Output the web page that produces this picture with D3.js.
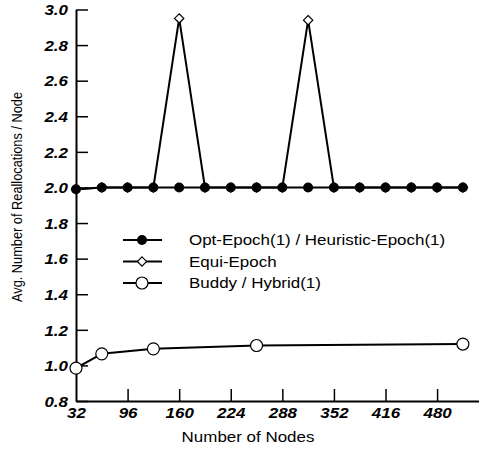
<!DOCTYPE html>
<html>
<head>
<meta charset="utf-8">
<script src="https://cdn.jsdelivr.net/npm/d3@7"></script>
<style>
  body { margin: 0; background: #fff; }
  text { font-family: "Liberation Sans", Arial, sans-serif; }
  .tick text { font-weight: bold; font-style: italic; font-size: 15px; }
</style>
</head>
<body>
<svg id="chart" width="479" height="449"></svg>
<script>
// data
let nodes = [32, 64, 96, 128, 160, 192, 224, 256, 288, 320, 352, 384, 416, 448, 480, 512];
let optEpoch = [1.99, 2.0, 2.0, 2.0, 2.0, 2.0, 2.0, 2.0, 2.0, 2.0, 2.0, 2.0, 2.0, 2.0, 2.0, 2.0];
let equiEpoch = [1.99, 2.0, 2.0, 2.0, 2.95, 2.0, 2.0, 2.0, 2.0, 2.94, 2.0, 2.0, 2.0, 2.0, 2.0, 2.0];
let buddyNodes = [32, 64, 128, 256, 512];
let buddy = [0.985, 1.065, 1.093, 1.112, 1.12];
let xTicks = [32, 96, 160, 224, 288, 352, 416, 480];
let yTicks = [0.8, 1.0, 1.2, 1.4, 1.6, 1.8, 2.0, 2.2, 2.4, 2.6, 2.8, 3.0];
let legendLabels = ["Opt-Epoch(1) / Heuristic-Epoch(1)", "Equi-Epoch", "Buddy / Hybrid(1)"];

let svg = d3.select("#chart");
let mLeft = 76, mTop = 9.5, mBottom = 401, mRight = 479;
let stretch = 1.13; // the original picture is a bit wider than tall

let x = d3.scaleLinear().domain([32, 32 + (mRight - mLeft) / 0.806]).range([mLeft, mRight]);
let y = d3.scaleLinear().domain([0.8, 3.0]).range([mBottom, mTop]);

// axes, ticks pointing inward
let xAxis = d3.axisBottom(x).tickValues(xTicks).tickSizeInner(-12).tickSizeOuter(0).tickPadding(4);
let yAxis = d3.axisLeft(y).tickValues(yTicks).tickSizeInner(-12).tickSizeOuter(0).tickPadding(8)
              .tickFormat(d3.format(".1f"));

let gx = svg.append("g").attr("transform", "translate(0," + mBottom + ")").call(xAxis);
let gy = svg.append("g").attr("transform", "translate(" + mLeft + ",0)").call(yAxis);
[gx, gy].forEach(g => {
  g.select(".domain").attr("stroke", "#000").attr("stroke-width", 2);
  g.selectAll(".tick line").attr("stroke", "#000").attr("stroke-width", 1.5);
  g.selectAll(".tick text").attr("fill", "#000");
});
gx.selectAll(".tick text").attr("dy", "0.9em")
  .attr("transform", "scale(" + stretch + ",1)");
gy.selectAll(".tick text").attr("dy", "0.35em")
  .attr("x", -8 / stretch).attr("transform", "scale(" + stretch + ",1)");
gx.selectAll(".tick").filter(d => d == 32).select("line").remove();

// titles
svg.append("text").attr("transform", "translate(248,442) scale(" + stretch + ",1)")
   .attr("text-anchor", "middle").attr("font-size", 15).text("Number of Nodes");
svg.append("text").attr("transform", "translate(22,197) rotate(-90) scale(1," + stretch + ")")
   .attr("text-anchor", "middle").attr("font-size", 12.8).text("Avg. Number of Reallocations / Node");

let line = d3.line().x(d => x(d[0])).y(d => y(d[1]));

let equiPts = nodes.map((n, i) => [n, equiEpoch[i]]);
let optPts = nodes.map((n, i) => [n, optEpoch[i]]);
let buddyPts = buddyNodes.map((n, i) => [n, buddy[i]]);

let diamond = d3.symbol().type(d3.symbolDiamond2).size(55);

// equi-epoch
svg.append("path").attr("d", line(equiPts)).attr("fill", "none").attr("stroke", "#000").attr("stroke-width", 2);
svg.append("g").selectAll("path").data(equiPts).join("path")
   .attr("d", diamond)
   .attr("transform", d => "translate(" + x(d[0]) + "," + y(d[1]) + ")")
   .attr("fill", "#fff").attr("stroke", "#000").attr("stroke-width", 1.2);

// opt-epoch
svg.append("path").attr("d", line(optPts)).attr("fill", "none").attr("stroke", "#000").attr("stroke-width", 2);
svg.append("g").selectAll("circle").data(optPts).join("circle")
   .attr("cx", d => x(d[0])).attr("cy", d => y(d[1])).attr("r", 5).attr("fill", "#000");

// buddy
svg.append("path").attr("d", line(buddyPts)).attr("fill", "none").attr("stroke", "#000").attr("stroke-width", 2);
svg.append("g").selectAll("circle").data(buddyPts).join("circle")
   .attr("cx", d => x(d[0])).attr("cy", d => y(d[1])).attr("r", 6)
   .attr("fill", "#fff").attr("stroke", "#000").attr("stroke-width", 1.2);

// legend
let legend = svg.append("g");
legendLabels.forEach((lab, i) => {
  let ly = 240 + i * 21.5;
  legend.append("line").attr("x1", 123).attr("x2", 162).attr("y1", ly).attr("y2", ly)
        .attr("stroke", "#000").attr("stroke-width", 2);
  if (i == 0) {
    legend.append("circle").attr("cx", 142).attr("cy", ly).attr("r", 5).attr("fill", "#000");
  } else if (i == 1) {
    legend.append("path").attr("d", diamond).attr("transform", "translate(142," + ly + ")")
          .attr("fill", "#fff").attr("stroke", "#000").attr("stroke-width", 1.2);
  } else {
    legend.append("circle").attr("cx", 142).attr("cy", ly).attr("r", 6)
          .attr("fill", "#fff").attr("stroke", "#000").attr("stroke-width", 1.2);
  }
  legend.append("text").attr("transform", "translate(189," + ly + ") scale(" + stretch + ",1)")
        .attr("dy", "0.35em").attr("font-size", 15).text(lab);
});
</script>
</body>
</html>
